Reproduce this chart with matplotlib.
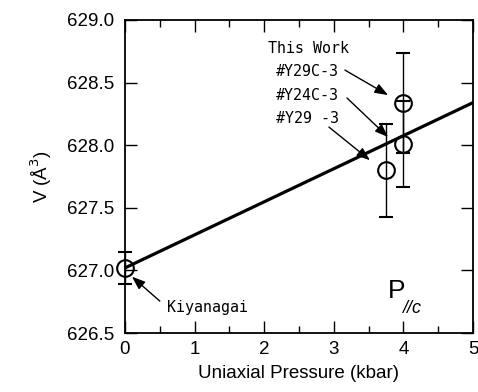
import numpy as np
import matplotlib
matplotlib.use('Agg')
import matplotlib.pyplot as plt
from matplotlib.ticker import MultipleLocator

plt.rcParams['font.family'] = ['Liberation Sans', 'DejaVu Sans']

# measured points (kbar, A^3)
pressure = [0.0, 3.75, 4.0, 4.0]
volume = [627.02, 627.80, 628.01, 628.34]
vol_err = [0.13, 0.37, 0.34, 0.40]
labels = ['Kiyanagai', '#Y29 -3', '#Y24C-3', '#Y29C-3']

# linear fit drawn across the plot
fit_p = [0.0, 5.0]
fit_v = [627.02, 628.34]

fig = plt.figure(figsize=(4.78, 3.92), dpi=100)
ax = fig.add_axes([0.2615, 0.1505, 0.7280, 0.7985])

ax.plot(fit_p, fit_v, color='black', lw=2.3, zorder=2)
eb = ax.errorbar(pressure, volume, yerr=vol_err, fmt='o', ms=12, mfc='none',
                 mec='black', mew=1.5, ecolor='black', elinewidth=1.0,
                 capsize=5, capthick=1.0, zorder=3)
for art in eb.get_children():
    art.set_clip_on(False)

ax.set_xlim(0, 5)
ax.set_ylim(626.5, 629.0)
ax.xaxis.set_major_locator(MultipleLocator(1))
ax.xaxis.set_minor_locator(MultipleLocator(0.5))
ax.yaxis.set_major_locator(MultipleLocator(0.5))
ax.yaxis.set_major_formatter(plt.FormatStrFormatter('%.1f'))
ax.tick_params(which='both', direction='in', top=True, right=True,
               labelsize=13.5, width=1.0, colors='black')
ax.tick_params(which='major', length=8.5)
ax.tick_params(axis='y', pad=8)
ax.tick_params(axis='x', pad=6)
ax.tick_params(which='minor', length=5)
for s in ax.spines.values():
    s.set_linewidth(1.3)

ax.set_xlabel('Uniaxial Pressure (kbar)', fontsize=13.5, labelpad=5)
ax.set_ylabel('V (Å$^3$)', fontsize=13.5, labelpad=9)

mono = dict(family='DejaVu Sans Mono', fontsize=10.8, color='black')
arr = dict(arrowstyle='-|>,head_length=0.8,head_width=0.3', color='black', lw=1.0,
           shrinkA=0, shrinkB=0)

ax.text(2.06, 628.775, 'This Work', ha='left', va='center', **mono)
# label positions in data coords, arrow tails and tips
text_pos = [(0.60, 626.70), (2.17, 628.215), (2.17, 628.40), (2.17, 628.587)]
arrow_start = [(0.50, 626.755), (2.93, 628.145), (3.19, 628.377), (3.16, 628.60)]
arrow_end = [(0.10, 626.95), (3.52, 627.88), (3.78, 628.065), (3.78, 628.40)]
for lab, tp, a0, a1 in zip(labels, text_pos, arrow_start, arrow_end):
    ax.text(tp[0], tp[1], lab, ha='left', va='center', **mono)
    ax.annotate('', xy=a1, xytext=a0, arrowprops=arr)

ax.text(3.78, 626.78, 'P', fontsize=19, ha='left', va='baseline')
ax.text(3.98, 626.66, '//c', fontsize=13, style='italic', ha='left', va='baseline')

fig.savefig('out.png', dpi=100)
